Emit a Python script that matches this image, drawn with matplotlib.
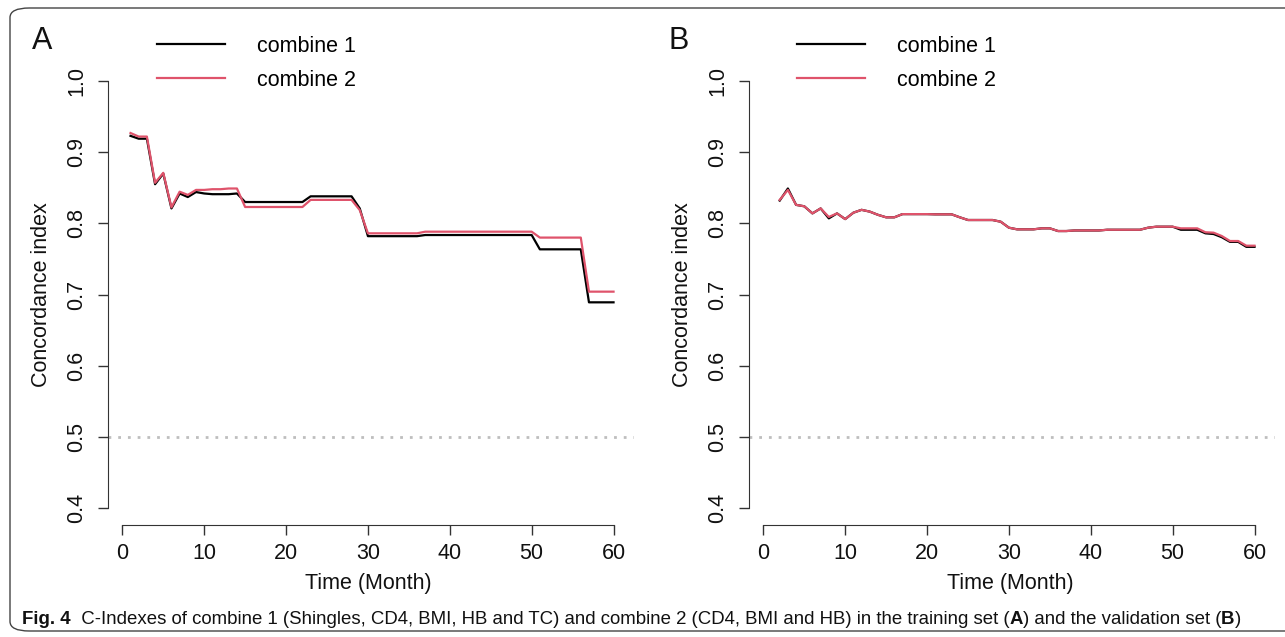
import matplotlib
matplotlib.use("Agg")
import matplotlib.pyplot as plt
from matplotlib.patches import FancyBboxPatch

# ---- data (C-index by month) ----
months_a = list(range(1, 61))
combine1_a = [0.923, 0.919, 0.919, 0.855, 0.870, 0.821, 0.842, 0.837, 0.844, 0.842,
              0.841, 0.841, 0.841, 0.842, 0.830, 0.830, 0.830, 0.830, 0.830, 0.830,
              0.830, 0.830, 0.838, 0.838, 0.838, 0.838, 0.838, 0.838, 0.821, 0.782,
              0.782, 0.782, 0.782, 0.782, 0.782, 0.782, 0.7836, 0.7836, 0.7836, 0.7836,
              0.7836, 0.7836, 0.7836, 0.7836, 0.7836, 0.7836, 0.7836, 0.7836, 0.7836, 0.7836,
              0.7635, 0.7635, 0.7635, 0.7635, 0.7635, 0.7635, 0.689, 0.689, 0.689, 0.689]
combine2_a = [0.927, 0.922, 0.922, 0.857, 0.871, 0.8225, 0.8445, 0.840, 0.847, 0.847,
              0.848, 0.848, 0.849, 0.849, 0.823, 0.823, 0.823, 0.823, 0.823, 0.823,
              0.823, 0.823, 0.833, 0.833, 0.833, 0.833, 0.833, 0.833, 0.8187, 0.786,
              0.786, 0.786, 0.786, 0.786, 0.786, 0.786, 0.7883, 0.7883, 0.7883, 0.7883,
              0.7883, 0.7883, 0.7883, 0.7883, 0.7883, 0.7883, 0.7883, 0.7883, 0.7883, 0.7883,
              0.780, 0.780, 0.780, 0.780, 0.780, 0.780, 0.704, 0.704, 0.704, 0.704]

months_b = list(range(2, 61))
combine1_b = [0.832, 0.849, 0.826, 0.824, 0.814, 0.821, 0.807, 0.814, 0.806, 0.815,
              0.819, 0.8165, 0.812, 0.8085, 0.8085, 0.813, 0.813, 0.813, 0.813, 0.8127,
              0.8127, 0.8127, 0.8085, 0.8047, 0.8047, 0.8047, 0.8047, 0.8023, 0.7939, 0.7916,
              0.7916, 0.7916, 0.793, 0.793, 0.7892, 0.7892, 0.790, 0.790, 0.790, 0.790,
              0.791, 0.791, 0.791, 0.791, 0.791, 0.7939, 0.7953, 0.7953, 0.7953, 0.791,
              0.791, 0.791, 0.786, 0.785, 0.7805, 0.774, 0.774, 0.767, 0.767]
combine2_b = [0.833, 0.847, 0.826, 0.824, 0.814, 0.821, 0.809, 0.814, 0.806, 0.815,
              0.819, 0.8165, 0.812, 0.8085, 0.8085, 0.813, 0.813, 0.813, 0.813, 0.8127,
              0.8127, 0.8127, 0.8085, 0.8047, 0.8047, 0.8047, 0.8047, 0.8023, 0.7939, 0.7916,
              0.7916, 0.7916, 0.793, 0.793, 0.7892, 0.7892, 0.790, 0.790, 0.790, 0.790,
              0.791, 0.791, 0.791, 0.791, 0.791, 0.7939, 0.7953, 0.7953, 0.7953, 0.793,
              0.793, 0.793, 0.7875, 0.7869, 0.7822, 0.7752, 0.7752, 0.7686, 0.7686]

xticks = [0, 10, 20, 30, 40, 50, 60]
yticks = [0.4, 0.5, 0.6, 0.7, 0.8, 0.9, 1.0]
labels = ["combine 1", "combine 2"]
colors = ["black", "#DF536B"]

# caption pieces: (text, bold)
caption = [("Fig. 4", True),
           ("  C-Indexes of combine 1 (Shingles, CD4, BMI, HB and TC) and combine 2 "
            "(CD4, BMI and HB) in the training set (", False),
           ("A", True),
           (") and the validation set (", False),
           ("B", True),
           (")", False)]

W, H = 1285, 637
plt.rcParams['font.family'] = ['Liberation Sans', 'DejaVu Sans']
fig = plt.figure(figsize=(W / 100, H / 100), dpi=100)

# rounded frame around the whole figure
frame = FancyBboxPatch((10 / W, 6 / H), 1.02, (H - 14) / H,
                       boxstyle="round,pad=0,rounding_size=0.015",
                       transform=fig.transFigure, fill=False,
                       edgecolor="#444444", lw=1.0)
fig.patches.append(frame)


def panel(left_px, x, y1, y2, letter, letter_px, leg_px, ylab_px, xlab_px):
    ax = fig.add_axes([left_px / W, (H - 525) / H, 526 / W, 461 / H])
    ax.plot(x, y1, color=colors[0], lw=1.6, label=labels[0])
    ax.plot(x, y2, color=colors[1], lw=1.6, label=labels[1])
    ax.axhline(0.5, color="#BEBEBE", lw=2, ls=(0, (1, 2.5)))
    ax.set_xlim(-1.75, 62.5)
    ax.set_ylim(0.376, 1.024)
    for s in ["top", "right"]:
        ax.spines[s].set_visible(False)
    ax.spines["left"].set_bounds(0.4, 1.0)
    ax.spines["bottom"].set_bounds(0, 60)
    ax.spines["left"].set_color("#333333")
    ax.spines["bottom"].set_color("#333333")
    ax.set_xticks(xticks)
    ax.set_yticks(yticks)
    ax.set_xticklabels([str(v) for v in xticks])
    ax.set_yticklabels(["%.1f" % v for v in yticks], rotation=90, va="center")
    ax.tick_params(axis="both", length=7, width=1, color="#333333", labelsize=15.5,
                   labelcolor="#111111")
    ax.tick_params(axis="y", pad=8)
    ax.tick_params(axis="x", pad=6)
    fig.text(ylab_px / W, 1 - 295 / H, "Concordance index", rotation=90,
             ha="center", va="center", fontsize=15.5, color="#111111")
    fig.text(xlab_px / W, 1 - 583 / H, "Time (Month)",
             ha="center", va="center", fontsize=15.5, color="#111111")
    fig.text(letter_px / W, 1 - 41 / H, letter, ha="center", va="center",
             fontsize=22, color="#111111")
    ax.legend(loc="upper left", bbox_to_anchor=(leg_px / W, 1 - 36 / H),
              bbox_transform=fig.transFigure, frameon=False, fontsize=15.5,
              handlelength=3.15, handletextpad=1.5, labelspacing=0.6,
              borderpad=0, borderaxespad=0)
    return ax


panel(108, months_a, combine1_a, combine2_a, "A", 42, 157, 42, 368)
panel(749, months_b, combine1_b, combine2_b, "B", 679, 797, 682, 1010)

# caption, laid out piece by piece
renderer = fig.canvas.get_renderer()
xpos = 22
for txt, bold in caption:
    t = fig.text(xpos / W, 1 - 620 / H, txt, ha="left", va="center", fontsize=13.4,
                 fontweight="bold" if bold else "normal", color="#111111")
    xpos += t.get_window_extent(renderer).width

fig.savefig("out.png", dpi=100)
